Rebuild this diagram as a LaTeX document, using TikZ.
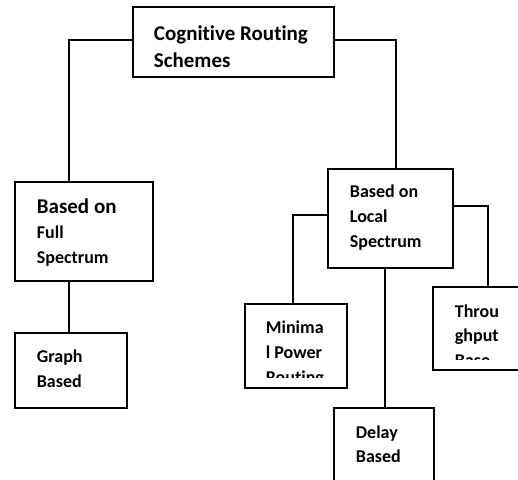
\documentclass[tikz,border=0pt]{standalone}
\usepackage{fontspec}
\setmainfont[Ligatures={NoCommon}]{Carlito}
\usetikzlibrary{calc}

\begin{document}
\begin{tikzpicture}[x=1pt,y=-1pt,line width=1.8pt,
  box/.style={draw,rectangle,anchor=north west,inner sep=0pt,outer sep=0pt},
  big/.style={anchor=base west,inner sep=0pt,font=\bfseries\fontsize{21}{26}\selectfont},
  small/.style={anchor=base west,inner sep=0pt,font=\bfseries\fontsize{18}{24}\selectfont},
  wire/.style={draw,line width=1.8pt}]

\clip (0,0) rectangle (518,479);

% boxes
\node[box,minimum width=201pt,minimum height=70pt] (top) at (133,7) {};
\node[box,minimum width=138pt,minimum height=99pt] (full) at (15,182) {};
\node[box,minimum width=112pt,minimum height=75pt] (graph) at (15,333) {};
\node[box,minimum width=125pt,minimum height=99pt] (local) at (328,169) {};
\node[box,minimum width=102pt,minimum height=84pt] (minimal) at (245,304) {};
\node[box,minimum width=100pt,minimum height=95pt] (delay) at (334,408) {};
\node[box,minimum width=110pt,minimum height=83pt] (thr) at (433,287) {};

% connectors
\draw[wire] ($(top.north west)+(0,33)$) -| ($(full.north west)+(54,0)$);
\draw[wire] ($(top.north east)+(0,33)$) -| ($(local.north west)+(68,0)$);
\draw[wire] ($(full.south west)+(54,0)$) -- ($(graph.north west)+(54,0)$);
\draw[wire] ($(local.north west)+(0,46)$) -| ($(minimal.north west)+(48,0)$);
\draw[wire] ($(local.south west)+(57,0)$) -- ($(delay.north west)+(51,0)$);
\draw[wire] ($(local.north east)+(0,37)$) -| ($(thr.north west)+(55,0)$);

% labels
\node[big] (t1) at (153,40) {Cognitive Routing};
\node[big] (t2) at (153,67) {Schemes};

\node[big] (f1) at (36,213) {Based on};
\node[small] (f2) at (36,238) {Full};
\node[small] (f3) at (36,263) {Spectrum};

\node[small] (g1) at (36,362) {Graph};
\node[small] (g2) at (36,387) {Based};

\node[small] (l1) at (349,197) {Based on};
\node[small] (l2) at (349,222) {Local};
\node[small] (l3) at (349,247) {Spectrum};

\begin{scope}
  \clip (245,304) rectangle (347,377);
  \node[small] (m1) at (265,333) {Minima};
  \node[small] (m2) at (265,358) {l Power};
  \node[small] (m3) at (265,383) {Routing};
\end{scope}

\begin{scope}
  \clip (433,287) rectangle (518,359);
  \node[small] (h1) at (454,317) {Throu};
  \node[small] (h2) at (454,341) {ghput};
  \node[small] (h3) at (454,366) {Base};
\end{scope}

\node[small] (d1) at (355,438) {Delay};
\node[small] (d2) at (355,462) {Based};
\end{tikzpicture}
\end{document}
